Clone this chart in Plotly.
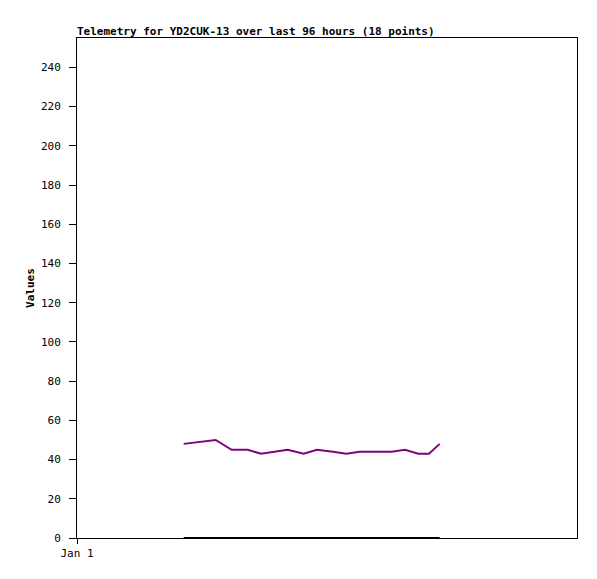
import plotly.graph_objects as go
from datetime import datetime, timedelta

hours = [40, 46, 52, 58, 64, 69, 74, 79, 85, 90, 96, 101, 106, 118, 123, 128, 132, 136]
values = [48, 49, 50, 45, 45, 43, 44, 45, 43, 45, 44, 43, 44, 44, 45, 43, 43, 48]
zeros = [0] * len(hours)
start = datetime(2024, 1, 1)
x = [start + timedelta(hours=h) for h in hours]
x_end = start + timedelta(hours=187.5)

font = "DejaVu Sans Mono, Liberation Mono, monospace"

W, H = 589, 571
fig = go.Figure()
fig.add_trace(go.Scatter(x=x, y=zeros, mode="lines", line=dict(color="black", width=2), showlegend=False))
fig.add_trace(go.Scatter(x=x, y=values, mode="lines", line=dict(color="#800080", width=2), showlegend=False))

fig.update_layout(
    width=W, height=H,
    margin=dict(l=69, r=20, t=30, b=41, autoexpand=False),
    paper_bgcolor="white", plot_bgcolor="white",
    font=dict(family=font, size=11, color="black"),
    title=dict(text="<b>Telemetry for YD2CUK-13 over last 96 hours (18 points)</b>",
               x=69/W, xanchor="left", y=1-23/H, yanchor="middle",
               font=dict(family=font, size=11, color="black")),
)
fig.update_xaxes(range=[start, x_end], showgrid=False, zeroline=False, automargin=False,
                 showline=True, linecolor="black", linewidth=1, mirror=True,
                 ticks="outside", ticklen=5, tickcolor="black",
                 tickvals=[start], ticktext=["Jan 1"], tickfont=dict(family=font, size=11))
fig.update_yaxes(range=[0, 255], showgrid=False, zeroline=False, automargin=False,
                 showline=True, linecolor="black", linewidth=1, mirror=True,
                 ticks="outside", ticklen=7, tickcolor="black", ticklabelstandoff=6,
                 tickvals=list(range(0, 241, 20)), tickfont=dict(family=font, size=11),
                 title=dict(text="<b>Values</b>", font=dict(family=font, size=11), standoff=4))
fig.write_html("out.html")
